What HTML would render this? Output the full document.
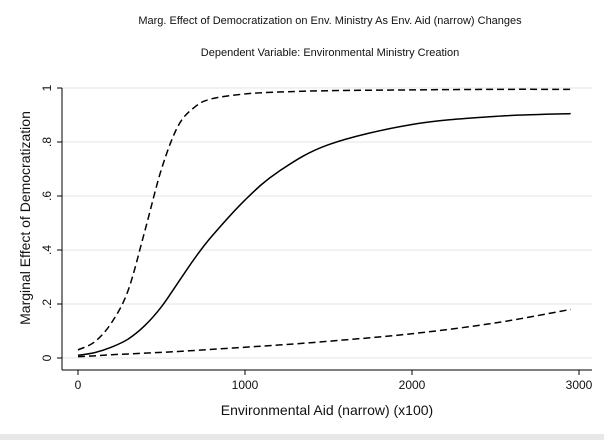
<!DOCTYPE html>
<html><head><meta charset="utf-8"><style>
body{margin:0;background:#fff;}
svg{display:block;font-family:"Liberation Sans",Arial,sans-serif;}
</style></head><body>
<svg id="chart" width="604" height="440">
<rect x="0" y="0" width="604" height="440" fill="#fff"/>
<rect x="0" y="434" width="604" height="6" fill="#e8e8e8"/>
<text x="330" y="24" font-size="11" text-anchor="middle" fill="#111">Marg. Effect of Democratization on Env. Ministry As Env. Aid (narrow) Changes</text>
<text x="330" y="56" font-size="11" text-anchor="middle" fill="#111">Dependent Variable: Environmental Ministry Creation</text>
<g id="grid"></g>
<g id="axes"></g>
<g id="series"></g>
<text x="327" y="415" font-size="14" text-anchor="middle" fill="#111">Environmental Aid (narrow) (x100)</text>
<text transform="translate(30,218) rotate(-90)" font-size="14" text-anchor="middle" fill="#111">Marginal Effect of Democratization</text>
</svg>
<script>
const xTicks=[0,1000,2000,3000];
const yTicks=[0,0.2,0.4,0.6,0.8,1];
const yTickLabels=["0",".2",".4",".6",".8","1"];
const aidValues=[0,100,200,300,400,500,600,700,800,1000,1200,1500,2000,2500,2950];
const effectEstimate=[0.01,0.02,0.04,0.07,0.12,0.19,0.28,0.37,0.45,0.585,0.69,0.79,0.865,0.895,0.905];
const upperBound=[0.03,0.06,0.13,0.25,0.47,0.7,0.86,0.93,0.96,0.978,0.985,0.99,0.993,0.995,0.995];
const lowerBound=[0.005,0.008,0.012,0.015,0.018,0.021,0.024,0.028,0.032,0.04,0.048,0.062,0.09,0.13,0.18];
const ns="http://www.w3.org/2000/svg";
const X=v=>78+v*0.167, Y=v=>358-v*270;
const grid=document.getElementById('grid'),axes=document.getElementById('axes'),ser=document.getElementById('series');
function mk(tag,attrs,parent){const e=document.createElementNS(ns,tag);for(const k in attrs)e.setAttribute(k,attrs[k]);parent.appendChild(e);return e;}
yTicks.forEach((t,i)=>{
 const g=mk('line',{x1:62,x2:592,y1:Y(t),y2:Y(t),stroke:'#e4e4e4','stroke-width':1},grid);
 
 
 const tk=mk('line',{x1:57,x2:62,y1:Y(t),y2:Y(t),stroke:'#000'},axes);
 
 
 const tx=mk('text',{transform:`translate(51,${Y(t)}) rotate(-90)`,'font-size':12,'text-anchor':'middle',fill:'#111'},axes);
 tx.textContent=yTickLabels[i];
 
 
});
const ya=mk('line',{x1:62,x2:62,y1:Y(1),y2:370,stroke:'#000'},axes);


const xa=mk('line',{x1:62,x2:592,y1:370,y2:370,stroke:'#000'},axes);


xTicks.forEach(t=>{
 const tk=mk('line',{x1:X(t),x2:X(t),y1:370,y2:375,stroke:'#000'},axes);
 
 
 const tx=mk('text',{x:X(t),y:389,'font-size':12,'text-anchor':'middle',fill:'#111'},axes);
 tx.textContent=String(t);
 
 
});
function path(vals){
 const p=aidValues.map((a,i)=>[X(a),Y(vals[i])]);
 let d=`M${p[0][0]},${p[0][1]}`;
 for(let i=0;i<p.length-1;i++){
  const p0=p[i-1]||p[i],p1=p[i],p2=p[i+1],p3=p[i+2]||p2;
  d+=` C${p1[0]+(p2[0]-p0[0])/6},${p1[1]+(p2[1]-p0[1])/6} ${p2[0]-(p3[0]-p1[0])/6},${p2[1]-(p3[1]-p1[1])/6} ${p2[0]},${p2[1]}`;
 }
 return d;
}
const s1=mk('path',{d:path(effectEstimate),fill:'none',stroke:'#000','stroke-width':1.5},ser);


const s2=mk('path',{d:path(upperBound),fill:'none',stroke:'#000','stroke-width':1.5,'stroke-dasharray':'7,4'},ser);


const s3=mk('path',{d:path(lowerBound),fill:'none',stroke:'#000','stroke-width':1.5,'stroke-dasharray':'7,4'},ser);


</script>
</body></html>
